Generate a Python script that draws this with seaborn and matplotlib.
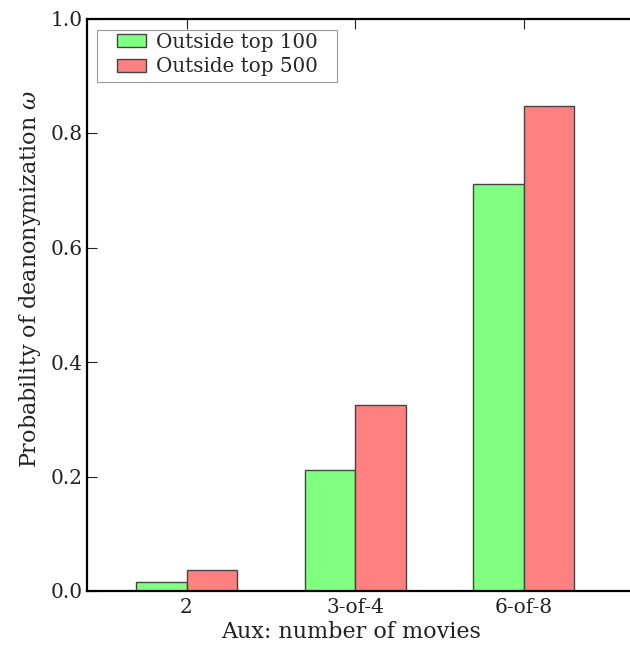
import matplotlib
matplotlib.use("Agg")
import matplotlib.pyplot as plt
import seaborn as sns
import pandas as pd
from matplotlib.patches import Rectangle

# Aux sizes and deanonymization probability for two popularity cut-offs
aux_sizes = ["2", "3-of-4", "6-of-8"]
outside_top_100 = [0.016, 0.212, 0.711]
outside_top_500 = [0.037, 0.325, 0.847]
series_names = ["Outside top 100", "Outside top 500"]
y_ticks = [0.0, 0.2, 0.4, 0.6, 0.8, 1.0]

df = pd.DataFrame({
    "aux": aux_sizes * 2,
    "prob": outside_top_100 + outside_top_500,
    "series": [series_names[0]] * 3 + [series_names[1]] * 3,
})

sns.set_theme(style="white")
plt.rcParams["font.family"] = ["DejaVu Serif"]
plt.rcParams["mathtext.fontset"] = "dejavuserif"

W, H = 630, 646
fig = plt.figure(figsize=(W / 100, H / 100), dpi=100)
# the plotting area runs past the right edge of the canvas
ax = fig.add_axes([87 / W, 55 / H, 565 / W, 572.5 / H])

sns.barplot(data=df, x="aux", y="prob", hue="series", order=aux_sizes,
            hue_order=series_names, palette=["#80ff80", "#ff8080"],
            width=0.6, edgecolor="#444444", linewidth=1.0, saturation=1,
            ax=ax)

ax.set_xlim(-0.59, 2.76)
ax.set_ylim(0, 1.0)
ax.set_yticks(y_ticks)
ax.set_yticklabels([f"{v:.1f}" for v in y_ticks])
ax.set_xlabel("Aux: number of movies", fontsize=16, color="#222222")
ax.set_ylabel(r"Probability of deanonymization $\omega$", fontsize=16,
              color="#222222")
ax.xaxis.set_label_coords(0.467, -0.052)
ax.yaxis.set_label_coords(-0.078, 0.545)

for s in ax.spines.values():
    s.set_visible(True)
    s.set_color("black")
    s.set_linewidth(1.6)

ax.tick_params(axis="x", direction="in", length=7, width=0.8,
               bottom=False, top=True, labelbottom=True,
               labelsize=14.5, pad=5, colors="#222222")
ax.tick_params(axis="y", direction="in", length=7, width=0.8, left=True,
               labelsize=14.5, pad=3, colors="#222222")

# legend frame with wide side margins, drawn behind the entries
ax.add_patch(Rectangle((0.0177, 0.889), 0.4248, 0.091, transform=ax.transAxes,
                       facecolor="white", edgecolor="#999999", linewidth=0.8,
                       zorder=4, clip_on=False))
leg = ax.legend(loc="upper left", bbox_to_anchor=(0.0531, 0.975),
                fontsize=14.3, frameon=False, borderpad=0,
                handlelength=1.46, handleheight=0.65, handletextpad=0.5,
                labelspacing=0.28, borderaxespad=0)
leg.set_zorder(5)

fig.savefig("out.png", dpi=100)
